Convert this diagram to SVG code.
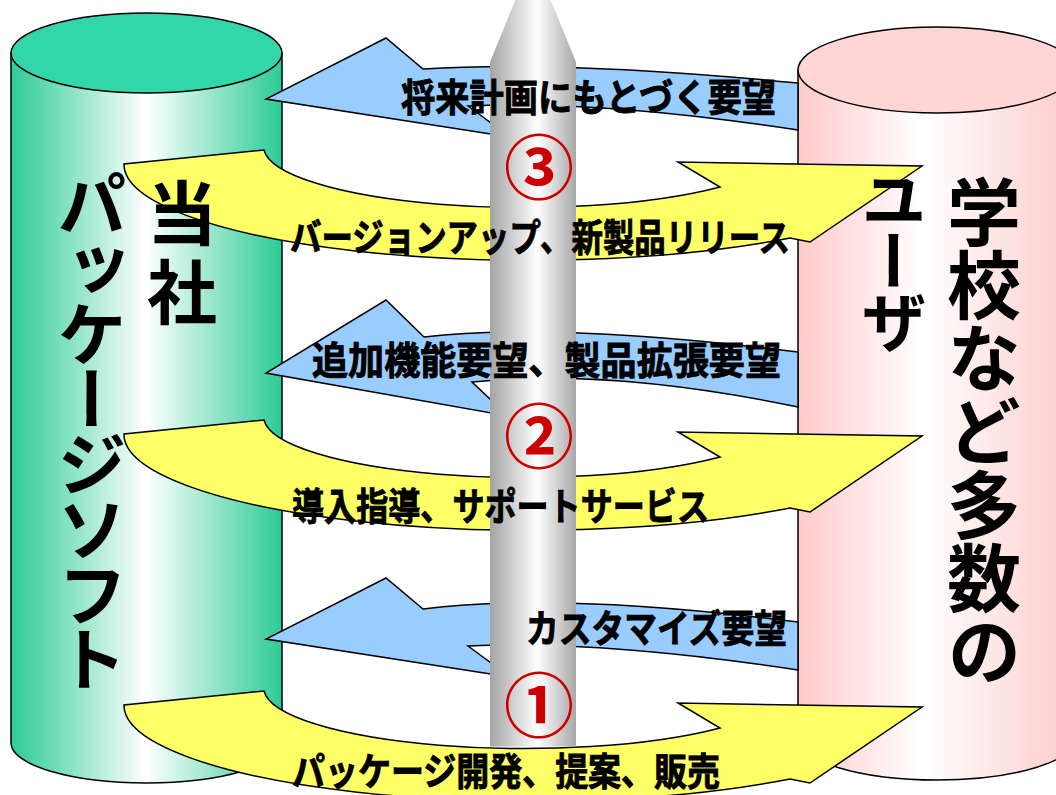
<svg xmlns="http://www.w3.org/2000/svg" width="1056" height="795" viewBox="0 0 1056 795">
  <defs>
    <linearGradient id="gGreen" x1="0" y1="0" x2="1" y2="0">
      <stop offset="0" stop-color="#2DCB97"/>
      <stop offset="0.5" stop-color="#FFFFFF"/>
      <stop offset="1" stop-color="#2DCB97"/>
    </linearGradient>
    <linearGradient id="gPink" x1="0" y1="0" x2="1" y2="0">
      <stop offset="0" stop-color="#FFCACA"/>
      <stop offset="0.45" stop-color="#FFFFFF"/>
      <stop offset="1" stop-color="#FFCACA"/>
    </linearGradient>
    <linearGradient id="gGray" x1="490" y1="0" x2="576" y2="0" gradientUnits="userSpaceOnUse">
      <stop offset="0" stop-color="#A4A4A4"/>
      <stop offset="0.55" stop-color="#FFFFFF"/>
      <stop offset="1" stop-color="#A8A8A8"/>
    </linearGradient>
    <style>
      .edge { stroke: #000; stroke-width: 1.5; }
      .blue { fill: #99CCFF; stroke: #000; stroke-width: 1.5; stroke-linejoin: miter; }
      .yellow { fill: #FFFF66; stroke: #000; stroke-width: 1.5; stroke-linejoin: miter; }
      .lbl { font-family: "Noto Sans CJK JP", "Noto Sans CJK SC", sans-serif; font-weight: 700; font-size: 38px; fill: #000; stroke: #000; stroke-width: 0.9; }
      .vert { font-family: "Noto Sans CJK JP", "Noto Sans CJK SC", sans-serif; font-weight: 700; fill: #000; writing-mode: vertical-rl; }
      .num { font-family: "Noto Sans CJK JP", "Noto Sans CJK SC", sans-serif; font-weight: 700; font-size: 70px; fill: #CC0000; text-anchor: middle; }
    </style>
  </defs>

  <g id="company">
    <path d="M11,53 L11,743 A135.5,40 0 0 0 282,743 L282,53 Z" fill="url(#gGreen)" class="edge"/>
    <ellipse cx="146.5" cy="53" rx="135.5" ry="40" fill="#33D6AA" class="edge"/>
  </g>

  <g id="users">
    <path d="M798,70 L798,738 A139,42 0 0 0 1076,738 L1076,70 Z" fill="url(#gPink)" class="edge"/>
    <ellipse cx="937" cy="70" rx="139" ry="43" fill="#FFD5D5" class="edge"/>
  </g>

  <g id="connectors">
    <path id="req3" class="blue" d="M798,83 Q560,60 423,69 L386,38 L266,99 L510,137 L468,106 Q600,100 798,130 Z"/>
    <path id="req2" class="blue" d="M798,352 Q560,322 424,337 L386,300 L266,373 L508,416 L472,382 Q610,368 798,407 Z"/>
    <path id="req1" class="blue" d="M798,622 Q560,592 423,609 L386,578 L266,639 L510,677 L468,646 Q600,640 798,670 Z"/>
    <path id="sup3" class="yellow" d="M124,164 A406,96 0 0 0 790,238 L810,242 L922,166 L678,162 L720,187 A261,61 0 0 1 264,150 Z"/>
    <path id="sup2" class="yellow" transform="translate(0,270)" d="M124,164 A406,96 0 0 0 790,238 L810,242 L922,166 L678,162 L720,187 A261,61 0 0 1 264,150 Z"/>
    <path id="sup1" class="yellow" transform="translate(0,541)" d="M124,164 A406,96 0 0 0 790,238 L810,242 L922,166 L678,162 L720,187 A261,61 0 0 1 264,150 Z"/>
  </g>

  <g id="growth-axis">
    <path d="M490,62 L533,-43 L576,62 L576,746.5 L490,746.5 Z" fill="url(#gGray)"/>
  </g>

  <g id="labels">
    <text class="lbl" x="401" y="111" textLength="375" lengthAdjust="spacingAndGlyphs">将来計画にもとづく要望</text>
    <text class="lbl" x="290" y="251" textLength="500" lengthAdjust="spacingAndGlyphs">バージョンアップ、新製品リリース</text>
    <text class="lbl" x="312" y="374" textLength="469" lengthAdjust="spacingAndGlyphs">追加機能要望、製品拡張要望</text>
    <text class="lbl" x="292" y="520" textLength="417" lengthAdjust="spacingAndGlyphs">導入指導、サポートサービス</text>
    <text class="lbl" x="526" y="642" textLength="261" lengthAdjust="spacingAndGlyphs">カスタマイズ要望</text>
    <text class="lbl" x="292" y="785" textLength="428" lengthAdjust="spacingAndGlyphs">パッケージ開発、提案、販売</text>
    <text class="num" x="539" y="194">③</text>
    <text class="num" x="539" y="463">②</text>
    <text class="num" x="539" y="732">①</text>
  </g>

  <g id="company-label">
    <text class="vert" x="92" y="169" font-size="70" letter-spacing="-5">パッケージソフト</text>
    <text class="vert" x="182" y="178" font-size="70" letter-spacing="9">当社</text>
  </g>
  <g id="users-label">
    <text class="vert" x="894" y="166" font-size="66" letter-spacing="-4.5">ユーザ</text>
    <text class="vert" x="984" y="174.5" font-size="74" letter-spacing="-0.75">学校など多数の</text>
  </g>
</svg>
